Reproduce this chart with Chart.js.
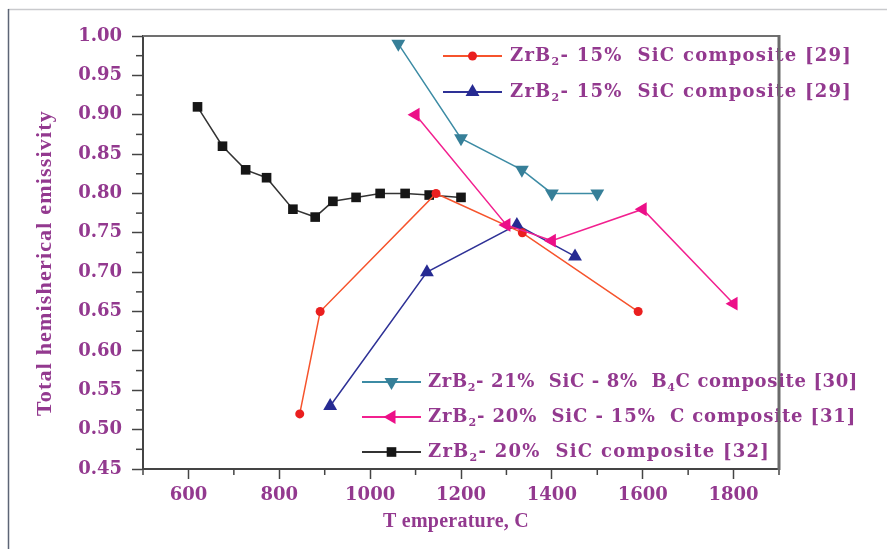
<!DOCTYPE html>
<html>
<head>
<meta charset="utf-8">
<script src="https://cdn.jsdelivr.net/npm/chart.js@4/dist/chart.umd.min.js"></script>
<style>
  html, body { margin: 0; padding: 0; background: #fff; }
  #wrap { width: 887px; height: 549px; position: relative; }
</style>
</head>
<body>
<div id="wrap"><canvas id="c" width="887" height="549"></canvas></div>
<script>
// Axis tick labels
const xTickLabels = [600, 800, 1000, 1200, 1400, 1600, 1800];
const yTickLabels = ['0.45', '0.50', '0.55', '0.60', '0.65', '0.70', '0.75', '0.80', '0.85', '0.90', '0.95', '1.00'];

// ZrB2-15% SiC composite [29], circles
const tempRed = [845, 890, 1145, 1335, 1590];
const emisRed = [0.52, 0.65, 0.80, 0.75, 0.65];
// ZrB2-15% SiC composite [29], triangles
const tempBlue = [912, 1125, 1323, 1451];
const emisBlue = [0.53, 0.70, 0.76, 0.72];
// ZrB2-21% SiC-8% B4C composite [30]
const tempTeal = [1062, 1200, 1334, 1400, 1500];
const emisTeal = [0.99, 0.87, 0.83, 0.80, 0.80];
// ZrB2-20% SiC-15% C composite [31]
const tempPink = [1100, 1300, 1400, 1600, 1800];
const emisPink = [0.90, 0.76, 0.74, 0.78, 0.66];
// ZrB2-20% SiC composite [32]
const tempBlack = [620, 675, 726, 772, 830, 879, 918, 969, 1022, 1077, 1130, 1200];
const emisBlack = [0.91, 0.86, 0.83, 0.82, 0.78, 0.77, 0.79, 0.795, 0.80, 0.80, 0.798, 0.795];

// Legend entries: [text, is subscript]
const legendRed   = [['ZrB', false], ['2', true], ['- 15%  SiC composite [29]', false]];
const legendBlue  = [['ZrB', false], ['2', true], ['- 15%  SiC composite [29]', false]];
const legendTeal  = [['ZrB', false], ['2', true], ['- 21%  SiC - 8%  B', false], ['4', true], ['C composite [30]', false]];
const legendPink  = [['ZrB', false], ['2', true], ['- 20%  SiC - 15%  C composite [31]', false]];
const legendBlack = [['ZrB', false], ['2', true], ['- 20%  SiC composite [32]', false]];

const TEXT = '#93398f';
const pts = (xs, ys) => xs.map((x, i) => ({ x: x, y: ys[i] }));

const styles = {
  red:   { line: '#f6532c', mark: '#ea1f1f', shape: 'circle',   r: 4.5, rot: 0 },
  blue:  { line: '#2e3196', mark: '#262a92', shape: 'triangle', r: 8,   rot: 0 },
  teal:  { line: '#3c8ba4', mark: '#367f98', shape: 'triangle', r: 8,   rot: 180 },
  pink:  { line: '#f2208f', mark: '#ec0f88', shape: 'triangle', r: 8,   rot: 270 },
  black: { line: '#333333', mark: '#161616', shape: 'rect',     r: 6.8, rot: 0 }
};

function ds(label, data, s) {
  return {
    label: label, data: data,
    borderColor: s.line, borderWidth: 1.5,
    pointStyle: s.shape, pointRadius: s.r, pointRotation: s.rot,
    pointBackgroundColor: s.mark, pointBorderColor: s.mark, pointBorderWidth: 0,
    fill: false, tension: 0
  };
}

function drawRich(ctx, x, y, parts, size, targetW, family) {
  const fMain = 'bold ' + size + 'px ' + family;
  const fSub = 'bold ' + Math.round(size * 0.6) + 'px ' + family;
  ctx.letterSpacing = '0px';
  let natural = 0, n = 0;
  parts.forEach(p => { ctx.font = p[1] ? fSub : fMain; natural += ctx.measureText(p[0]).width; n += p[0].length; });
  const sp = targetW ? (targetW - natural) / n : 0;
  ctx.textBaseline = 'middle';
  ctx.textAlign = 'left';
  let cx = x;
  parts.forEach(p => {
    ctx.font = p[1] ? fSub : fMain;
    ctx.letterSpacing = '0px';
    const w = ctx.measureText(p[0]).width;
    ctx.letterSpacing = sp.toFixed(2) + 'px';
    ctx.fillText(p[0], cx, p[1] ? y + 6 : y);
    cx += w + sp * p[0].length;
  });
  ctx.letterSpacing = '0px';
}

const decorations = {
  id: 'decorations',
  afterDatasetsDraw(chart) {
    const ctx = chart.ctx;
    const rows = [
      { x0: 443, x1: 502, tx: 510, y: 56,  s: styles.red,   parts: legendRed,   w: 342 },
      { x0: 443, x1: 502, tx: 510, y: 92,  s: styles.blue,  parts: legendBlue,  w: 342 },
      { x0: 362, x1: 421, tx: 428, y: 382, s: styles.teal,  parts: legendTeal,  w: 430 },
      { x0: 362, x1: 421, tx: 428, y: 417, s: styles.pink,  parts: legendPink,  w: 428 },
      { x0: 362, x1: 421, tx: 428, y: 452, s: styles.black, parts: legendBlack, w: 342 }
    ];
    ctx.save();
    rows.forEach(r => {
      ctx.strokeStyle = r.s.line; ctx.lineWidth = 2;
      ctx.beginPath(); ctx.moveTo(r.x0, r.y); ctx.lineTo(r.x1, r.y); ctx.stroke();
      ctx.fillStyle = r.s.mark; ctx.strokeStyle = r.s.mark; ctx.lineWidth = 0.01;
      Chart.helpers.drawPoint(ctx, { pointStyle: r.s.shape, radius: r.s.r, rotation: r.s.rot, borderWidth: 0 }, (r.x0 + r.x1) / 2, r.y);
      ctx.fillStyle = TEXT;
      drawRich(ctx, r.tx, r.y, r.parts, 18, r.w, '"DejaVu Serif"');
    });
    ctx.restore();
  },
  afterDraw(chart) {
    const ctx = chart.ctx;
    const a = chart.chartArea;
    const xs = chart.scales.x, ys = chart.scales.y;
    ctx.save();
    // minor ticks
    ctx.strokeStyle = '#444'; ctx.lineWidth = 1.5;
    for (let v = 500; v <= 1900; v += 200) {
      const px = xs.getPixelForValue(v);
      ctx.beginPath(); ctx.moveTo(px, a.bottom); ctx.lineTo(px, a.bottom + 6); ctx.stroke();
    }
    for (let i = 0; i < 11; i++) {
      const v = 0.475 + i * 0.05;
      const py = ys.getPixelForValue(v);
      ctx.beginPath(); ctx.moveTo(a.left - 7, py); ctx.lineTo(a.left, py); ctx.stroke();
    }
    // frame top and right
    ctx.strokeStyle = '#707070'; ctx.lineWidth = 2;
    ctx.beginPath(); ctx.moveTo(a.left, a.top); ctx.lineTo(a.right, a.top); ctx.stroke();
    ctx.lineWidth = 3; ctx.strokeStyle = '#6a6a6a';
    ctx.beginPath(); ctx.moveTo(a.right, a.top - 1); ctx.lineTo(a.right, a.bottom + 1); ctx.stroke();
    // axis titles
    ctx.fillStyle = TEXT;
    ctx.letterSpacing = '0px';
    ctx.font = 'bold 20px "Liberation Serif"';
    ctx.textAlign = 'left'; ctx.textBaseline = 'middle';
    const xt = 'T emperature, C';
    const xw = ctx.measureText(xt).width;
    const xsp = (146 - xw) / xt.length;
    ctx.letterSpacing = xsp.toFixed(2) + 'px';
    ctx.fillText(xt, 456 - 73, 522);
    ctx.letterSpacing = '0px';
    ctx.font = 'bold 22px "Liberation Serif"';
    const yt = 'Total hemisherical emissivity';
    const yw = ctx.measureText(yt).width;
    const ysp = (306 - yw) / yt.length;
    ctx.translate(45, 263);
    ctx.rotate(-Math.PI / 2);
    ctx.letterSpacing = ysp.toFixed(2) + 'px';
    ctx.fillText(yt, -153, 0);
    ctx.restore();
    // outer border
    ctx.save();
    ctx.strokeStyle = '#c9cacd'; ctx.lineWidth = 1.5;
    ctx.beginPath(); ctx.moveTo(8, 9.5); ctx.lineTo(887, 9.5); ctx.stroke();
    ctx.strokeStyle = '#5d6576'; ctx.lineWidth = 1.5;
    ctx.beginPath(); ctx.moveTo(8.5, 9); ctx.lineTo(8.5, 549); ctx.stroke();
    ctx.restore();
  }
};

new Chart(document.getElementById('c'), {
  type: 'line',
  data: {
    datasets: [
      ds('ZrB2- 20% SiC - 15% C composite [31]', pts(tempPink, emisPink), styles.pink),
      ds('ZrB2- 15% SiC composite [29]', pts(tempRed, emisRed), styles.red),
      ds('ZrB2- 15% SiC composite [29]', pts(tempBlue, emisBlue), styles.blue),
      ds('ZrB2- 21% SiC - 8% B4C composite [30]', pts(tempTeal, emisTeal), styles.teal),
      ds('ZrB2- 20% SiC composite [32]', pts(tempBlack, emisBlack), styles.black)
    ]
  },
  options: {
    responsive: false,
    animation: false,
    devicePixelRatio: 1,
    layout: { padding: { left: 0, top: 36, right: 108, bottom: 0 } },
    plugins: { legend: { display: false }, tooltip: { enabled: false } },
    scales: {
      x: {
        type: 'linear', min: 500, max: 1900,
        afterFit: s => { s.height = 80; },
        afterBuildTicks: s => { s.ticks = xTickLabels.map(v => ({ value: v })); },
        ticks: {
          callback: v => String(v),
          font: { family: 'DejaVu Serif', weight: 'bold', size: 18 },
          color: TEXT, padding: 6, maxRotation: 0, autoSkip: false
        },
        grid: { drawOnChartArea: false, tickLength: 10, tickColor: '#444', tickWidth: 1.5 },
        border: { display: true, color: '#444', width: 2 }
      },
      y: {
        type: 'linear', min: 0.45, max: 1.0,
        afterFit: s => { s.width = 143; },
        afterBuildTicks: s => { s.ticks = yTickLabels.map(t => ({ value: parseFloat(t) })); },
        ticks: {
          callback: v => yTickLabels.find(t => Math.abs(parseFloat(t) - v) < 1e-6),
          font: { family: 'DejaVu Serif', weight: 'bold', size: 18 },
          color: TEXT, padding: 10, autoSkip: false
        },
        grid: { drawOnChartArea: false, tickLength: 11, tickColor: '#444', tickWidth: 1.5 },
        border: { display: true, color: '#444', width: 2 }
      }
    }
  },
  plugins: [decorations]
});
</script>
</body>
</html>
